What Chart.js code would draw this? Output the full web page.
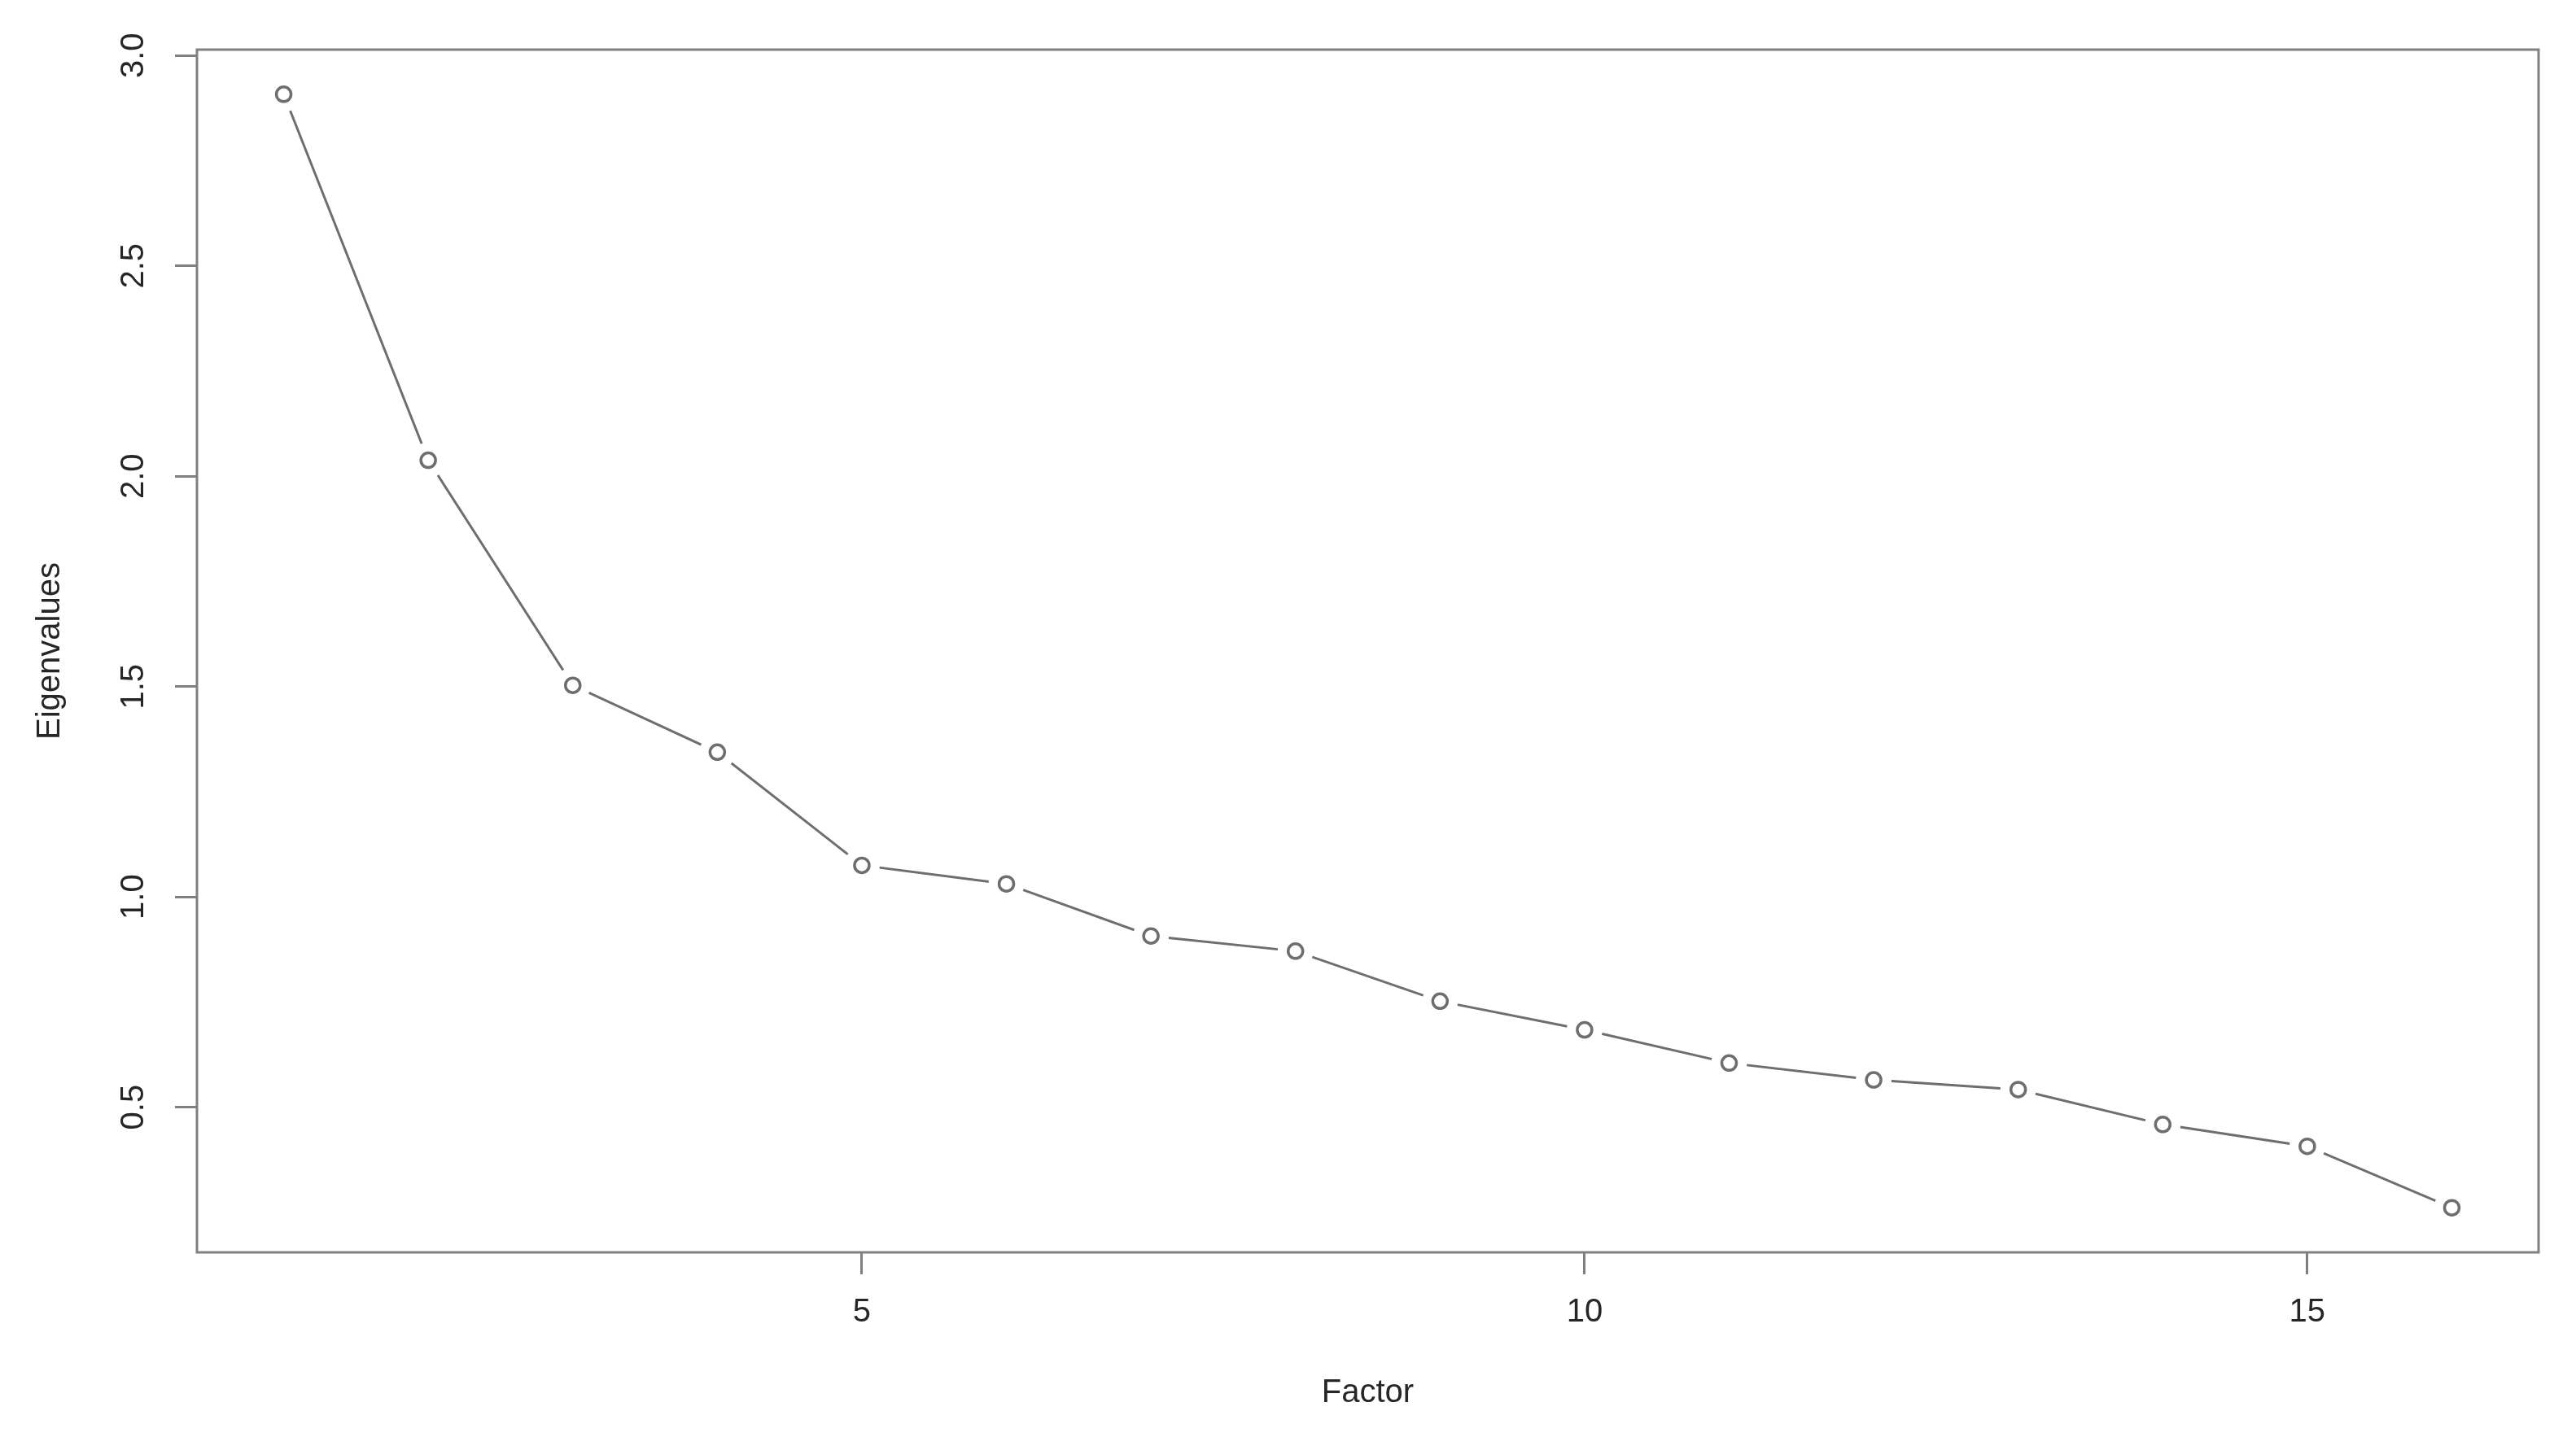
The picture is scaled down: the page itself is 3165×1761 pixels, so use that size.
<!DOCTYPE html>
<html>
<head>
<meta charset="utf-8">
<script src="https://cdn.jsdelivr.net/npm/chart.js@4.4.1/dist/chart.umd.min.js"></script>
<style>
    html, body { margin: 0; padding: 0; background: #fff; }
    #wrap { width: 3165px; height: 1761px; }
</style>
</head>
<body>
<div id="wrap"><canvas id="chart" width="3165" height="1761"></canvas></div>
<script>

// ==========================
// DATA
// ==========================

const factors = [1, 2, 3, 4, 5, 6, 7, 8, 9, 10, 11, 12, 13, 14, 15, 16];
const eigenvalues = [2.908, 2.038, 1.503, 1.344, 1.075, 1.031, 0.907, 0.871,
                     0.752, 0.684, 0.605, 0.565, 0.542, 0.459, 0.407, 0.261];

const xTicks = [5, 10, 15];
const yTicks = [0.5, 1.0, 1.5, 2.0, 2.5, 3.0];

const xLabel = "Factor";
const yLabel = "Eigenvalues";


// ==========================
// STYLE
// ==========================

const fontFamily = "'Liberation Sans', Arial, sans-serif";
const textColor = "#262626";
const axisColor = "#808080";
const lineColor = "#6e6e6e";

const points = factors.map((f, i) => ({ x: f, y: eigenvalues[i] }));

// box around the plot region, like R's default frame
const framePlugin = {
    id: "frame",
    beforeDatasetsDraw(chart) {
        const { ctx, chartArea: a } = chart;
        ctx.save();
        ctx.strokeStyle = axisColor;
        ctx.lineWidth = 3;
        ctx.strokeRect(a.left, a.top, a.right - a.left, a.bottom - a.top);
        ctx.restore();
    }
};

const ctx = document.getElementById("chart").getContext("2d");

new Chart(ctx, {
    type: "line",
    data: {
        datasets: [
            {
                // connecting line
                data: points,
                borderColor: lineColor,
                borderWidth: 3,
                pointRadius: 0,
                tension: 0,
                fill: false,
                order: 2
            },
            {
                // white gap around each point (type = "b")
                data: points,
                showLine: false,
                pointRadius: 22,
                pointBackgroundColor: "#ffffff",
                pointBorderWidth: 0,
                order: 1
            },
            {
                // open circles
                data: points,
                showLine: false,
                pointRadius: 9,
                pointBackgroundColor: "#ffffff",
                pointBorderColor: lineColor,
                pointBorderWidth: 3.5,
                order: 0
            }
        ]
    },
    options: {
        responsive: false,
        animation: false,
        devicePixelRatio: 1,
        layout: {
            padding: { top: 61, right: 46, left: 0, bottom: 0 }
        },
        plugins: {
            legend: { display: false },
            tooltip: { enabled: false }
        },
        scales: {
            x: {
                type: "linear",
                min: 0.4,
                max: 16.6,
                afterBuildTicks: scale => {
                    scale.ticks = xTicks.map(v => ({ value: v }));
                },
                afterFit: scale => { scale.height = 222; },
                grid: {
                    drawOnChartArea: false,
                    drawTicks: true,
                    tickLength: 27,
                    color: axisColor,
                    lineWidth: 3
                },
                border: { display: false },
                ticks: {
                    color: textColor,
                    font: { family: fontFamily, size: 40 },
                    padding: 23,
                    maxRotation: 0,
                    callback: v => String(v)
                },
                title: {
                    display: true,
                    text: xLabel,
                    color: textColor,
                    font: { family: fontFamily, size: 40 },
                    padding: { top: 0, bottom: 25 }
                }
            },
            y: {
                min: 0.155,
                max: 3.014,
                afterBuildTicks: scale => {
                    scale.ticks = yTicks.map(v => ({ value: v }));
                },
                afterFit: scale => { scale.width = 242; },
                grid: {
                    drawOnChartArea: false,
                    drawTicks: true,
                    tickLength: 27,
                    color: axisColor,
                    lineWidth: 3
                },
                border: { display: false },
                ticks: {
                    color: textColor,
                    font: { family: fontFamily, size: 40 },
                    padding: 22,
                    minRotation: 90,
                    maxRotation: 90,
                    crossAlign: "center",
                    callback: v => v.toFixed(1)
                },
                title: {
                    display: true,
                    text: yLabel,
                    color: textColor,
                    font: { family: fontFamily, size: 40 },
                    padding: { top: 38, bottom: 0 }
                }
            }
        }
    },
    plugins: [framePlugin]
});
</script>
</body>
</html>
